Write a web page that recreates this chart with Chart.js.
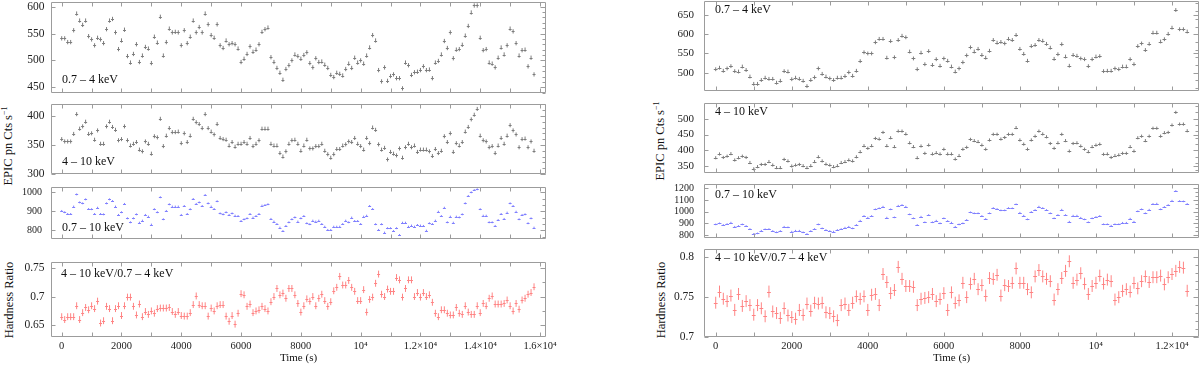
<!DOCTYPE html>
<html>
<head>
<meta charset="utf-8">
<script src="https://cdn.jsdelivr.net/npm/chart.js@4"></script>
<style>
  body { margin: 0; width: 1200px; height: 365px; background: #fff; position: relative; overflow: hidden; font-family: "Liberation Serif", serif; }
  .ylab { position: absolute; transform: translate(-50%, -50%) rotate(-90deg); white-space: nowrap; font-size: 12.5px; color: #111; }
  .ylab sup { font-size: 8px; }
</style>
</head>
<body>
<div class="ylab" style="left:8px;top:146px">EPIC pn Cts s<sup>−1</sup></div>
<div class="ylab" style="left:9px;top:300px">Hardness Ratio</div>
<div class="ylab" style="left:660px;top:141px">EPIC pn Cts s<sup>−1</sup></div>
<div class="ylab" style="left:661px;top:300px">Hardness Ratio</div>
<script>
// light curves, 100 s bins starting at t = 0
const binWidth = 100;

// left observation
const leftSoft = [
  541,541,534,534,556,587,574,566,574,545, 539,528,542,539,532,558,574,577,552,521,
  537,557,508,496,512,530,497,509,525,522, 495,544,533,581,509,534,559,552,553,552,
  528,556,532,544,574,552,562,552,587,567, 547,542,567,528,523,537,530,532,530,522,
  497,503,512,526,516,520,530,553,558,561, 506,497,486,477,464,484,491,500,511,508,
  503,510,515,495,487,504,497,498,492,486, 473,469,477,475,472,484,494,486,505,496,
  500,494,509,524,547,537,482,461,487,462, 471,474,467,467,448,496,491,473,478,479,
  482,489,482,483,467,496,499,511,536,523, 552,504,520,521,529,546,564,589,602,602,
  542,519,521,496,494,487,505,524,511,528, 559,554,532,509,519,520,489,505,474
];
const leftHard = [
  360,356,356,356,369,403,378,382,390,369, 370,359,375,352,352,382,390,381,376,358,
  360,382,358,349,352,355,342,339,356,352, 335,365,363,395,348,366,379,372,372,373,
  353,370,355,366,395,389,386,379,403,379, 373,368,386,362,360,359,349,355,347,352,
  352,355,352,362,348,352,358,378,378,378, 352,349,349,336,330,339,352,358,359,352,
  340,349,359,344,344,348,348,352,340,334, 328,334,343,343,349,351,356,355,362,352,
  348,342,362,353,380,376,351,342,345,325, 338,335,332,344,328,346,352,346,349,338,
  342,342,342,339,331,343,336,340,365,355, 370,338,353,349,355,373,381,394,402,412,
  366,358,356,346,348,336,349,362,352,366, 384,375,368,346,360,361,346,356,340
];
const leftBroad = [
  902,895,886,886,925,989,947,942,963,912, 911,886,919,886,884,942,963,954,925,881,
  895,939,863,842,863,884,840,851,881,872, 830,911,895,974,858,902,937,925,925,925,
  881,928,886,911,965,939,947,928,986,942, 925,912,953,889,884,895,881,889,877,875,
  849,858,863,886,867,875,886,930,933,937, 860,846,833,814,796,823,842,858,868,846,
  863,875,837,832,851,846,851,833,819,802, 802,819,819,819,833,851,842,867,849,849,
  833,872,877,928,912,832,802,832,788,811, 811,796,811,775,840,840,819,825,819,828,
  825,823,798,837,833,851,898,875,919,842, 872,840,872,868,884,942,981,1000,1012,1016,
  911,877,877,842,842,823,854,886,860,893, 942,928,898,858,881,884,837,863,814
];
const leftRatio = [
  0.665,0.660,0.665,0.665,0.665,0.684,0.660,0.672,0.681,0.677, 0.684,0.679,0.692,0.654,0.658,0.683,0.679,0.658,0.679,0.684,
  0.667,0.684,0.699,0.699,0.683,0.668,0.687,0.665,0.674,0.669, 0.675,0.671,0.679,0.680,0.680,0.680,0.681,0.674,0.669,0.674,
  0.667,0.666,0.666,0.672,0.686,0.701,0.686,0.684,0.684,0.666, 0.680,0.675,0.684,0.686,0.686,0.666,0.657,0.667,0.652,0.671,
  0.705,0.703,0.683,0.687,0.672,0.675,0.677,0.683,0.679,0.675, 0.691,0.700,0.714,0.703,0.706,0.697,0.714,0.714,0.703,0.688,
  0.673,0.684,0.696,0.692,0.700,0.684,0.697,0.704,0.693,0.683, 0.691,0.710,0.716,0.735,0.720,0.720,0.728,0.716,0.709,0.693,
  0.693,0.712,0.673,0.695,0.699,0.723,0.739,0.704,0.700,0.713, 0.709,0.709,0.733,0.729,0.699,0.714,0.729,0.729,0.700,0.707,
  0.699,0.707,0.700,0.703,0.690,0.671,0.665,0.677,0.677,0.671, 0.668,0.668,0.681,0.671,0.669,0.684,0.673,0.669,0.669,0.684,
  0.672,0.688,0.684,0.697,0.701,0.687,0.687,0.687,0.688,0.694, 0.684,0.675,0.688,0.678,0.694,0.697,0.704,0.707,0.717
];

// right observation
const rightSoft = [
  509,513,505,511,517,504,503,516,507,490, 471,471,481,487,484,484,474,479,504,503,
  483,487,484,479,465,481,488,511,497,490, 485,481,487,487,491,501,492,505,530,553,
  550,550,579,588,588,539,582,540,585,596, 592,555,537,509,552,522,556,520,535,518,
  537,531,516,503,511,527,545,566,555,562, 546,539,557,585,578,580,576,588,585,598,
  562,549,531,569,572,585,583,575,565,536, 548,574,542,518,546,544,537,535,517,535,
  542,543,504,505,505,511,509,516,516,535, 522,569,576,559,575,604,604,581,587,601,
  617,663,613,613,607
];
const rightHard = [
  377,389,378,382,390,370,377,382,378,362, 342,349,356,356,365,354,346,346,372,367,
  351,354,356,352,346,352,365,380,367,357, 354,349,352,362,365,370,367,380,396,415,
  407,415,438,436,457,415,440,412,461,461, 452,424,412,377,414,391,417,389,393,389,
  404,389,389,373,384,404,410,435,431,428, 417,404,433,451,451,436,441,451,451,472,
  433,420,404,433,445,461,452,443,422,407, 424,451,431,398,422,424,414,404,396,412,
  417,420,388,389,378,384,386,391,391,412, 398,440,445,431,445,470,470,445,456,457,
  480,520,483,483,462
];
const rightBroad = [
  891,900,886,894,906,871,877,891,877,851, 809,814,837,849,851,834,823,834,871,866,
  829,837,837,823,809,834,851,891,857,843, 834,829,843,851,863,871,857,886,923,963,
  949,963,1020,1029,1043,949,1020,951,1051,1057, 1043,977,943,886,957,909,971,909,923,900,
  943,920,906,871,891,900,929,994,986,986, 963,937,986,1031,1023,1011,1011,1031,1029,1063,
  991,966,934,997,1014,1043,1031,1014,986,943, 971,1017,971,914,966,966,948,934,909,943,
  954,963,892,892,880,892,892,905,905,940, 914,1003,1020,986,1017,1066,1069,1020,1040,1057,
  1094,1177,1091,1088,1066
];
const rightRatio = [
  0.743,0.757,0.748,0.745,0.752,0.734,0.754,0.739,0.745,0.740, 0.728,0.740,0.736,0.726,0.757,0.732,0.730,0.724,0.736,0.727,
  0.725,0.723,0.734,0.728,0.742,0.733,0.743,0.742,0.743,0.731, 0.730,0.726,0.721,0.740,0.742,0.734,0.743,0.751,0.748,0.751,
  0.734,0.753,0.754,0.740,0.779,0.769,0.755,0.759,0.788,0.773, 0.764,0.764,0.763,0.740,0.748,0.749,0.750,0.754,0.745,0.748,
  0.755,0.734,0.756,0.743,0.746,0.768,0.750,0.767,0.773,0.760, 0.765,0.752,0.774,0.773,0.778,0.752,0.765,0.764,0.768,0.786,
  0.768,0.768,0.760,0.756,0.776,0.784,0.776,0.773,0.770,0.747, 0.760,0.774,0.783,0.795,0.768,0.772,0.780,0.767,0.754,0.764,
  0.768,0.777,0.767,0.772,0.770,0.747,0.750,0.758,0.760,0.757, 0.768,0.761,0.770,0.776,0.769,0.775,0.775,0.777,0.766,0.775,
  0.779,0.783,0.788,0.787,0.758
];

// tick labels
const leftTimeTicks = [0, 2000, 4000, 6000, 8000, 10000, 12000, 14000, 16000];
const leftTimeLabels = ['0', '2000', '4000', '6000', '8000', '10⁴', '1.2×10⁴', '1.4×10⁴', '1.6×10⁴'];
const rightTimeTicks = [0, 2000, 4000, 6000, 8000, 10000, 12000];
const rightTimeLabels = ['0', '2000', '4000', '6000', '8000', '10⁴', '1.2×10⁴'];
const leftSoftTicks = [450, 500, 550, 600];
const leftHardTicks = [300, 350, 400];
const leftBroadTicks = [800, 900, 1000];
const leftRatioTicks = [0.65, 0.7, 0.75];
const rightSoftTicks = [500, 550, 600, 650];
const rightHardTicks = [350, 400, 450, 500];
const rightBroadTicks = [800, 900, 1000, 1100, 1200];
const rightRatioTicks = [0.7, 0.75, 0.8];

const serif = '"Liberation Serif", "Times New Roman", serif';
const GREY = '#7d7d7d', BLUE = '#8080ff', RED = '#ff8484';

// bin-width horizontal bar plus vertical error bar for every point
const crossBars = {
  id: 'crossBars',
  afterDatasetsDraw(chart, args, o) {
    const { ctx, chartArea: a, scales: { x, y } } = chart;
    ctx.save();
    ctx.beginPath();
    ctx.rect(a.left, a.top, a.width, a.height);
    ctx.clip();
    chart.data.datasets.forEach(ds => {
      ctx.strokeStyle = ds.borderColor;
      ctx.lineWidth = 1;
      ctx.beginPath();
      ds.data.forEach(p => {
        const xc = x.getPixelForValue(p.x);
        const yc = Math.round(y.getPixelForValue(p.y)) + 0.5;
        ctx.moveTo(x.getPixelForValue(p.x - binWidth / 2), yc);
        ctx.lineTo(x.getPixelForValue(p.x + binWidth / 2), yc);
        ctx.moveTo(xc, y.getPixelForValue(p.y - o.yErr));
        ctx.lineTo(xc, y.getPixelForValue(p.y + o.yErr));
      });
      ctx.stroke();
    });
    ctx.restore();
  }
};

// box round the plot with inward ticks on all four sides
const frameTicks = {
  id: 'frameTicks',
  afterDraw(chart, args, o) {
    const { ctx, chartArea: a, scales: { x, y } } = chart;
    const L = Math.round(a.left) + 0.5, R = Math.round(a.right) - 0.5;
    const T = Math.round(a.top) + 0.5, B = Math.round(a.bottom) - 0.5;
    ctx.save();
    ctx.strokeStyle = '#9c9c9c';
    ctx.lineWidth = 1;
    ctx.beginPath();
    ctx.rect(L, T, R - L, B - T);
    for (let t = Math.ceil(x.min / 1000) * 1000; t <= x.max; t += 1000) {
      const px = Math.round(x.getPixelForValue(t)) + 0.5;
      ctx.moveTo(px, B); ctx.lineTo(px, B - 4);
      ctx.moveTo(px, T); ctx.lineTo(px, T + 4);
    }
    o.major.forEach(v => {
      const py = Math.round(y.getPixelForValue(v)) + 0.5;
      ctx.moveTo(L, py); ctx.lineTo(L + 4, py);
      ctx.moveTo(R, py); ctx.lineTo(R - 5, py);
    });
    for (let k = Math.ceil(y.min / o.minor - 1e-6); k * o.minor <= y.max + 1e-9; k++) {
      const py = Math.round(y.getPixelForValue(k * o.minor)) + 0.5;
      ctx.moveTo(R, py); ctx.lineTo(R - 3, py);
    }
    ctx.stroke();
    ctx.restore();
  }
};

// energy band written inside the panel
const panelTag = {
  id: 'panelTag',
  afterDraw(chart, args, o) {
    const { ctx, chartArea: a } = chart;
    ctx.save();
    ctx.font = '12px ' + serif;
    ctx.fillStyle = '#111';
    ctx.textBaseline = 'middle';
    ctx.fillText(o.text, a.left + o.dx, a.top + o.dy);
    ctx.restore();
  }
};

function panel(c) {
  const yAxisW = 50, padTop = 18;
  const padBottom = c.timeTicks ? 0 : 18;
  const xAxisH = c.timeTicks ? 28 : 0;
  const w = yAxisW + (c.right - c.left) + c.padRight;
  const h = padTop + (c.bottom - c.top) + xAxisH + padBottom;
  const cv = document.createElement('canvas');
  cv.width = w; cv.height = h;
  cv.style.cssText = `position:absolute;left:${c.left - yAxisW}px;top:${c.top - padTop}px;width:${w}px;height:${h}px`;
  document.body.appendChild(cv);

  const points = c.values.map((v, i) => ({ x: i * binWidth, y: v }));

  new Chart(cv, {
    type: 'scatter',
    data: { datasets: [{ data: points, borderColor: c.color, backgroundColor: c.color, pointRadius: 0 }] },
    options: {
      responsive: false,
      animation: false,
      events: [],
      layout: { padding: { left: 0, right: c.padRight, top: padTop, bottom: padBottom } },
      plugins: {
        legend: { display: false },
        tooltip: { enabled: false },
        crossBars: { yErr: c.yErr },
        frameTicks: { major: c.yTicks, minor: c.yMinor },
        panelTag: { text: c.tag, dx: c.tagX - c.left, dy: c.tagY - c.top }
      },
      scales: {
        x: {
          type: 'linear',
          min: c.xMin, max: c.xMax,
          display: !!c.timeTicks,
          grid: { display: false, drawTicks: false },
          border: { display: false },
          afterBuildTicks: s => { if (c.timeTicks) s.ticks = c.timeTicks.map(v => ({ value: v })); },
          afterFit: s => { if (c.timeTicks) s.height = xAxisH; },
          ticks: {
            autoSkip: false, maxRotation: 0, padding: 3, color: '#222',
            font: { family: serif, size: 10.5 },
            callback: (v, i) => c.timeLabels ? c.timeLabels[i] : ''
          },
          title: {
            display: !!c.timeTicks, text: 'Time (s)', color: '#111',
            font: { family: serif, size: 11, lineHeight: 1 },
            padding: { top: 0, bottom: 1.5 }
          }
        },
        y: {
          min: c.yMin, max: c.yMax,
          grid: { display: false, drawTicks: false },
          border: { display: false },
          afterBuildTicks: s => { s.ticks = c.yTicks.map(v => ({ value: v })); },
          afterFit: s => { s.width = yAxisW; },
          ticks: {
            autoSkip: false, padding: c.yPad, color: '#222',
            font: { family: serif, size: c.yFont },
            callback: v => String(v)
          }
        }
      }
    },
    plugins: [crossBars, frameTicks, panelTag]
  });
}

const L0 = { left: 51, right: 546, padRight: 30, xMin: -358, xMax: 16200, yPad: 6.5 };
const R0 = { left: 704, right: 1199, padRight: 1, xMin: -308, xMax: 12710, yPad: 10 };

panel({ ...L0, top: 2, bottom: 93, values: leftSoft, color: GREY, yErr: 4,
  yMin: 439.5, yMax: 608.5, yTicks: leftSoftTicks, yMinor: 10, yFont: 11.5,
  tag: '0.7 – 4 keV', tagX: 62, tagY: 80 });
panel({ ...L0, top: 104, bottom: 174, values: leftHard, color: GREY, yErr: 3.5,
  yMin: 300, yMax: 420.5, yTicks: leftHardTicks, yMinor: 10, yFont: 11.5,
  tag: '4 – 10 keV', tagX: 62, tagY: 162 });
panel({ ...L0, top: 187, bottom: 239, values: leftBroad, color: BLUE, yErr: 5,
  yMin: 754, yMax: 1028, yTicks: leftBroadTicks, yMinor: 100 / 3, yFont: 10, yPad: 9,
  tag: '0.7 – 10 keV', tagX: 62, tagY: 228 });
panel({ ...L0, top: 262, bottom: 337, values: leftRatio, color: RED, yErr: 0.006,
  yMin: 0.6297, yMax: 0.76, yTicks: leftRatioTicks, yMinor: 0.025, yFont: 11.5,
  tag: '4 – 10 keV/0.7 – 4 keV', tagX: 61, tagY: 274,
  timeTicks: leftTimeTicks, timeLabels: leftTimeLabels });

panel({ ...R0, top: 1, bottom: 91, values: rightSoft, color: GREY, yErr: 5,
  yMin: 452.4, yMax: 686.4, yTicks: rightSoftTicks, yMinor: 20, yFont: 11,
  tag: '0.7 – 4 keV', tagX: 715, tagY: 10 });
panel({ ...R0, top: 103, bottom: 173, values: rightHard, color: GREY, yErr: 5,
  yMin: 329, yMax: 549.5, yTicks: rightHardTicks, yMinor: 20, yFont: 11,
  tag: '4 – 10 keV', tagX: 715, tagY: 112 });
panel({ ...R0, top: 184, bottom: 238, values: rightBroad, color: BLUE, yErr: 7,
  yMin: 774.3, yMax: 1236.8, yTicks: rightBroadTicks, yMinor: 100 / 3, yFont: 10,
  tag: '0.7 – 10 keV', tagX: 715, tagY: 195 });
panel({ ...R0, top: 249, bottom: 337, values: rightRatio, color: RED, yErr: 0.0075,
  yMin: 0.7, yMax: 0.8104, yTicks: rightRatioTicks, yMinor: 0.01, yFont: 11.5,
  tag: '4 – 10 keV/0.7 – 4 keV', tagX: 715, tagY: 258,
  timeTicks: rightTimeTicks, timeLabels: rightTimeLabels });
</script>
</body>
</html>
